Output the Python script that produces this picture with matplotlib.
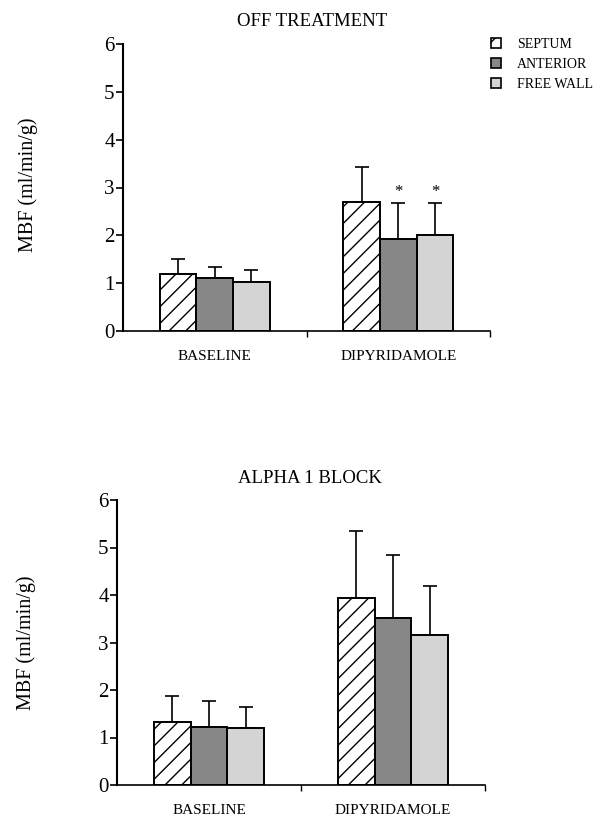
import numpy as np
import matplotlib
matplotlib.use('Agg')
import matplotlib.pyplot as plt
from matplotlib.patches import Patch

plt.rcParams['font.family'] = ['Liberation Serif', 'DejaVu Serif']
plt.rcParams['hatch.linewidth'] = 1.0

# data
groups = ['BASELINE', 'DIPYRIDAMOLE']
regions = ['SEPTUM', 'ANTERIOR', 'FREE WALL']

# OFF TREATMENT: mean and upper SD, per region, per group
off_mean = {'SEPTUM': [1.19, 2.69], 'ANTERIOR': [1.10, 1.93], 'FREE WALL': [1.03, 2.00]}
off_sd = {'SEPTUM': [0.31, 0.73], 'ANTERIOR': [0.24, 0.74], 'FREE WALL': [0.25, 0.67]}
off_star = {'SEPTUM': [False, False], 'ANTERIOR': [False, True], 'FREE WALL': [False, True]}

# ALPHA 1 BLOCK
alpha_mean = {'SEPTUM': [1.33, 3.94], 'ANTERIOR': [1.22, 3.52], 'FREE WALL': [1.19, 3.15]}
alpha_sd = {'SEPTUM': [0.54, 1.40], 'ANTERIOR': [0.55, 1.32], 'FREE WALL': [0.45, 1.03]}

styles = {
    'SEPTUM': dict(facecolor='white', hatch='//'),
    'ANTERIOR': dict(facecolor='#878787', hatch=None),
    'FREE WALL': dict(facecolor='#d4d4d4', hatch=None),
}

fig = plt.figure(figsize=(6.12, 8.19), dpi=100)
W, H = 612., 819.


def draw_panel(ax, means, sds, stars=None):
    x = np.arange(len(groups))
    width = 0.2
    for i, r in enumerate(regions):
        pos = x + (i - 1) * width
        st = styles[r]
        ax.bar(pos, means[r], width, color=st['facecolor'], hatch=st['hatch'],
               edgecolor='black', linewidth=1.4, zorder=2)
        ax.errorbar(pos, means[r], yerr=[np.zeros(len(groups)), sds[r]], fmt='none',
                    ecolor='black', elinewidth=1.2, capsize=5, capthick=1.2, zorder=1)
        if stars is not None:
            for p, flag in zip(pos, stars[r]):
                if flag:
                    ax.text(p, 2.9, '*', ha='center', va='center', fontsize=12)
    ax.set_xlim(-0.5, 1.5)
    ax.set_ylim(0, 6)
    ax.set_yticks(range(7))
    ax.set_xticks(x)
    ax.set_xticklabels(groups, fontsize=11)
    ax.set_xticks([0.5, 1.5], minor=True)
    ax.tick_params(axis='x', which='major', length=0, pad=14)
    ax.tick_params(axis='x', which='minor', length=4, direction='out', width=1)
    ax.tick_params(axis='y', labelsize=15, length=5, width=1.2, direction='out', pad=1)
    ax.spines['top'].set_visible(False)
    ax.spines['right'].set_visible(False)
    ax.spines['left'].set_linewidth(1.5)
    ax.spines['bottom'].set_linewidth(1.2)
    ax.set_ylabel('MBF (ml/min/g)', fontsize=14.5)


ax1 = fig.add_axes([123 / W, 1 - 331 / H, 367 / W, 287 / H])
draw_panel(ax1, off_mean, off_sd, off_star)
ax1.yaxis.set_label_coords(-0.232, 0.51)

ax2 = fig.add_axes([117 / W, 1 - 785 / H, 368 / W, 285 / H])
draw_panel(ax2, alpha_mean, alpha_sd)
ax2.yaxis.set_label_coords(-0.22, 0.5)

fig.text(312 / W, 1 - 22 / H, 'OFF TREATMENT', ha='center', va='center', fontsize=13.5)
fig.text(310 / W, 1 - 478 / H, 'ALPHA 1 BLOCK', ha='center', va='center', fontsize=13.5)

handles = [Patch(facecolor=styles[r]['facecolor'], hatch=styles[r]['hatch'],
                 edgecolor='black', linewidth=1.2) for r in regions]
fig.legend(handles, regions, loc='upper left', bbox_to_anchor=(484 / W, 1 - 31 / H),
           frameon=False, fontsize=10, handlelength=0.7, handleheight=0.7,
           handletextpad=1.2, labelspacing=0.5, borderpad=0)

fig.savefig('out.png', dpi=100)
